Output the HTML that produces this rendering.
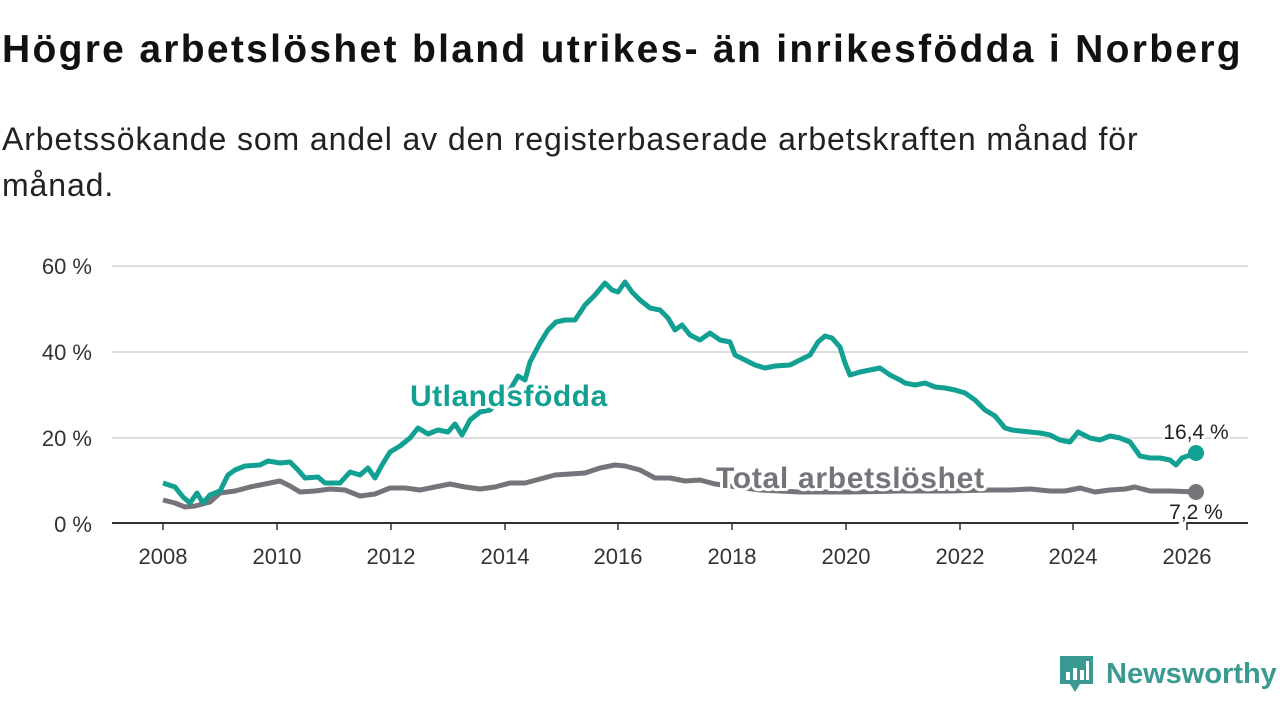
<!DOCTYPE html>
<html><head><meta charset="utf-8"><style>
body{margin:0;width:1280px;height:720px;background:#fff;overflow:hidden;font-family:"Liberation Sans",sans-serif;color:#111}
h1{position:absolute;left:2px;top:28px;margin:0;font-size:39px;font-weight:bold;letter-spacing:2.3px;white-space:nowrap}
.sub{position:absolute;left:2px;top:116px;font-size:32px;line-height:46px;color:#222;width:1180px;letter-spacing:0.9px}
</style></head><body>
<h1>Högre arbetslöshet bland utrikes- än inrikesfödda i Norberg</h1>
<div class="sub">Arbetssökande som andel av den registerbaserade arbetskraften månad för månad.</div>
<svg width="1280" height="720" style="position:absolute;left:0;top:0" font-family="Liberation Sans, sans-serif">
<g stroke="#ddd" stroke-width="2">
<line x1="112" y1="266" x2="1248" y2="266"/><line x1="112" y1="352" x2="1248" y2="352"/><line x1="112" y1="438" x2="1248" y2="438"/>
</g>
<line x1="112" y1="523" x2="1248" y2="523" stroke="#333" stroke-width="2"/>
<g font-size="22" fill="#333" text-anchor="end">
<text x="92" y="274">60 %</text><text x="92" y="360">40 %</text><text x="92" y="446">20 %</text><text x="92" y="532">0 %</text>
</g>
<g font-size="22" fill="#333" text-anchor="middle">
<text x="163" y="564">2008</text><text x="277" y="564">2010</text><text x="391" y="564">2012</text><text x="505" y="564">2014</text><text x="618" y="564">2016</text><text x="732" y="564">2018</text><text x="846" y="564">2020</text><text x="960" y="564">2022</text><text x="1073" y="564">2024</text><text x="1187" y="564">2026</text>
</g>
<g stroke="#333" stroke-width="1.5"><line x1="163" y1="523" x2="163" y2="530"/><line x1="277" y1="523" x2="277" y2="530"/><line x1="391" y1="523" x2="391" y2="530"/><line x1="505" y1="523" x2="505" y2="530"/><line x1="618" y1="523" x2="618" y2="530"/><line x1="732" y1="523" x2="732" y2="530"/><line x1="846" y1="523" x2="846" y2="530"/><line x1="960" y1="523" x2="960" y2="530"/><line x1="1073" y1="523" x2="1073" y2="530"/><line x1="1187" y1="523" x2="1187" y2="530"/></g>
<polyline fill="none" stroke="#77737b" stroke-width="5" stroke-linejoin="round" points="163,500 175,503 185,507 195,506 210,502 220,493 235,491 250,487 265,484 280,481 290,486 300,492 315,491 330,489 345,490 360,496 375,494 390,488 405,488 420,490 435,487 450,484 465,487 480,489 495,487 510,483 525,483 540,479 555,475 570,474 585,473 600,468 615,465 625,466 640,470 655,478 670,478 685,481 700,480 715,484 760,490 800,492 850,492 900,491 950,491 990,490 1010,490 1030,489 1050,491 1065,491 1080,488 1095,492 1110,490 1125,489 1135,487 1150,491 1170,491 1196,492"/>
<polyline fill="none" stroke="#12a092" stroke-width="5" stroke-linejoin="round" points="163,483 175,487 183,497 190,503 197,493 203,503 210,495 220,491 228,475 235,470 245,466 260,465 268,461 280,463 290,462 298,470 305,478 318,477 325,483 340,483 350,472 360,475 368,468 375,478 382,465 390,452 400,446 410,438 418,428 428,434 438,430 448,432 455,424 462,435 470,420 480,412 490,410 500,400 510,390 518,376 525,380 530,362 540,343 548,330 556,322 565,320 575,320 585,305 595,295 605,283 612,290 618,292 625,282 632,292 640,300 650,308 660,310 668,318 675,330 682,325 690,335 700,340 710,333 720,340 730,342 735,355 745,360 755,365 765,368 775,366 790,365 800,360 810,355 818,342 825,336 832,338 840,347 845,363 850,375 860,372 870,370 880,368 890,375 900,380 905,383 915,385 925,383 935,387 945,388 955,390 965,393 975,400 985,410 995,416 1005,428 1012,430 1020,431 1030,432 1040,433 1050,435 1060,440 1070,442 1078,432 1090,438 1100,440 1110,436 1120,438 1130,442 1140,456 1150,458 1160,458 1170,460 1176,465 1182,458 1196,453"/>
<circle cx="1196" cy="453" r="8" fill="#12a092"/>
<circle cx="1196" cy="492" r="8" fill="#77737b"/>
<g font-weight="bold" font-size="30" stroke="#fff" stroke-width="6" paint-order="stroke" stroke-linejoin="round">
<text x="410" y="406" fill="#12a092" letter-spacing="0.5">Utlandsfödda</text>
<text x="716" y="488" fill="#77737b" letter-spacing="0.7">Total arbetslöshet</text>
</g>
<g font-size="21" fill="#222" text-anchor="middle" stroke="#fff" stroke-width="5" paint-order="stroke">
<text x="1196" y="439">16,4 %</text>
<text x="1196" y="519">7,2 %</text>
</g>
<g transform="translate(1060,656)">
<path d="M0,0 h33 v28 h-13 l-5,8 l-5,-8 h-10 z" fill="#3a9a92"/>
<rect x="6" y="16" width="4" height="8" fill="#fff"/><rect x="13" y="12" width="4" height="12" fill="#fff"/><rect x="20" y="14" width="4" height="10" fill="#fff"/><rect x="26" y="5" width="3" height="19" fill="#fff"/>
</g>
<text x="1106" y="683" font-size="29" font-weight="bold" fill="#3a9a92">Newsworthy</text>
</svg>
</body></html>
